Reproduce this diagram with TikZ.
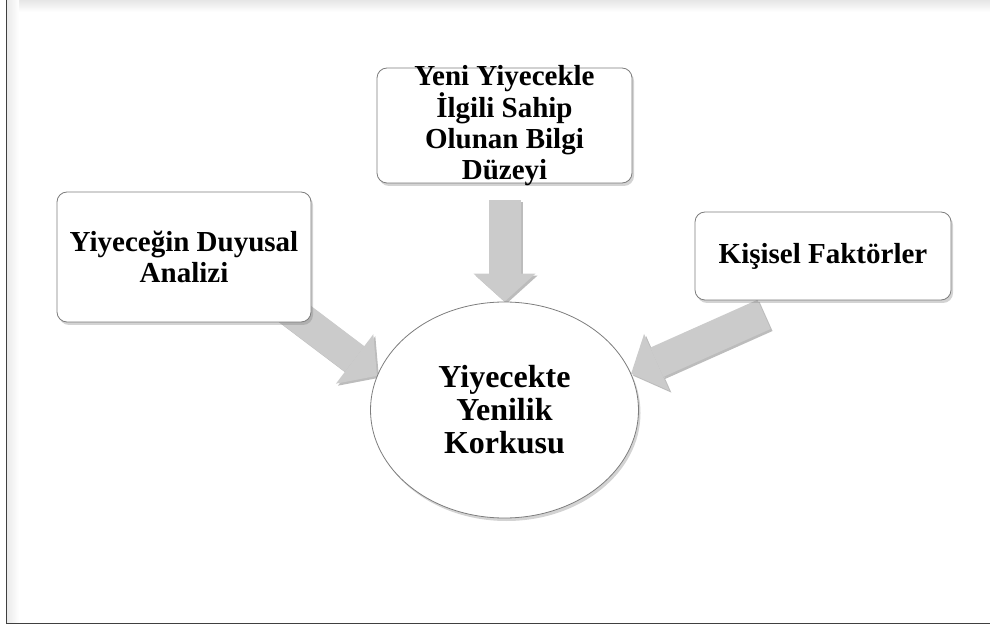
\documentclass[tikz,border=0pt]{standalone}
\usepackage{fontspec}
\setmainfont{Liberation Serif}
\usetikzlibrary{shapes.geometric}
\usetikzlibrary{shadows}
\usetikzlibrary{arrows.meta}
\usetikzlibrary{backgrounds}
\definecolor{arrgray}{RGB}{203,203,203}
\definecolor{arrshade}{RGB}{188,188,188}
\definecolor{rimgray}{RGB}{125,125,125}

\begin{document}
\begin{tikzpicture}[x=1pt,y=1pt,
    box/.style={draw=rimgray, fill=white, rounded corners=10pt, line width=0.8pt,
      inner sep=0pt, align=center, font=\bfseries\fontsize{29}{31}\selectfont,
      drop shadow={shadow xshift=2pt, shadow yshift=-3pt, opacity=0.35}},
    boxtext/.style={inner sep=0pt, align=center, font=\bfseries\fontsize{29}{31}\selectfont},
    oval/.style={ellipse, draw=rimgray, fill=white, line width=0.8pt, inner sep=0pt,
      minimum width=268pt, minimum height=216pt, align=center,
      font=\bfseries\fontsize{32}{33}\selectfont,
      drop shadow={shadow xshift=2pt, shadow yshift=-3pt, opacity=0.35}},
    fatarr/.style={draw=arrgray, line width=32pt,
      -{Triangle[length=28pt, width=62pt, line width=0pt]}}]
  \useasboundingbox (0,0) rectangle (990,627);
  % frame
  \shade[top color=black!10, bottom color=white] (7,615) rectangle (990,627);
  \shade[left color=black!8, right color=white] (7,4) rectangle (19,627);
  \draw[line width=1.4pt, black!75] (6.5,627) -- (6.5,3.5) -- (990,3.5);
  % the three factors and the centre
  \node[box, minimum width=254pt, minimum height=130pt] (sens) at (184,370) {Yiyeceğin Duyusal\\Analizi};
  \node[box, minimum width=255pt, minimum height=115pt] (know) at (504.5,501.5) {};
  \node[boxtext] (knowtext) at (know.center) {Yeni Yiyecekle\\İlgili Sahip\\Olunan Bilgi\\Düzeyi};
  \node[box, minimum width=256pt, minimum height=88pt] (pers) at (823,371) {Kişisel Faktörler};
  \node[oval] (circ) at (504.5,217) {Yiyecekte\\Yenilik\\Korkusu};
  % block arrows
  \begin{scope}[on background layer]
    \begin{scope}[transform canvas={xshift=2pt, yshift=-2pt}]
      \draw[fatarr, draw=arrshade, shorten <=17pt] (know.south) -- (circ.north);
      \draw[fatarr, draw=arrshade] ([shift={(-25,15)}]sens.south east) -- (circ.165);
      \draw[fatarr, draw=arrshade] ([shift={(-59,-14)}]pers.south) -- (circ.16);
    \end{scope}
    \draw[fatarr, shorten <=17pt] (know.south) -- (circ.north);
    \draw[fatarr] ([shift={(-25,15)}]sens.south east) -- (circ.165);
    \draw[fatarr] ([shift={(-59,-14)}]pers.south) -- (circ.16);
  \end{scope}
\end{tikzpicture}
\end{document}
